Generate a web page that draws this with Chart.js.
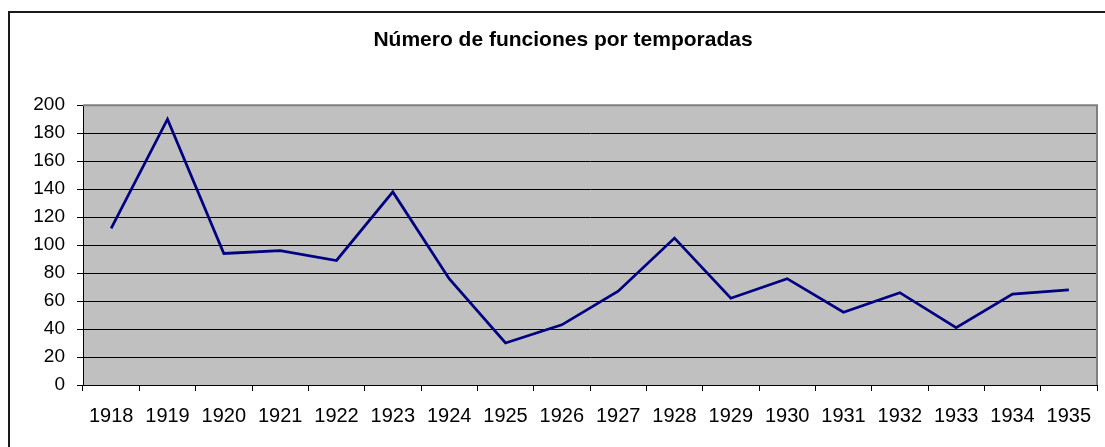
<!DOCTYPE html>
<html>
<head>
<meta charset="utf-8">
<script src="https://cdn.jsdelivr.net/npm/chart.js@4"></script>
<style>
  html, body { margin: 0; padding: 0; background: #ffffff; overflow: hidden; }
  #wrap { position: relative; width: 1105px; height: 447px; }
  canvas { display: block; }
</style>
</head>
<body>
<div id="wrap"><canvas id="c" width="1105" height="447"></canvas></div>
<script>
// ---- data ----
const chartTitle = 'Número de funciones por temporadas';
const seasons = ['1918','1919','1920','1921','1922','1923','1924','1925','1926','1927','1928','1929','1930','1931','1932','1933','1934','1935'];
const performances = [112, 190, 94, 96, 89, 138, 76, 30, 43, 67, 105, 62, 76, 52, 66, 41, 65, 68];
const yMin = 0;
const yMax = 200;
const yStep = 20;

const FONT = "'Liberation Sans', Arial, sans-serif";

const framePlugin = {
  id: 'framePlugin',
  beforeDraw(chart) {
    const ctx = chart.ctx;
    const a = chart.chartArea;
    ctx.save();
    ctx.fillStyle = '#ffffff';
    ctx.fillRect(0, 0, chart.width, chart.height);
    // outer frame (extends beyond the picture on right and bottom)
    ctx.strokeStyle = '#1a1a1a';
    ctx.lineWidth = 2;
    ctx.beginPath();
    ctx.moveTo(9, chart.height + 5);
    ctx.lineTo(9, 12);
    ctx.lineTo(chart.width + 5, 12);
    ctx.stroke();
    // plot background
    ctx.fillStyle = '#c0c0c0';
    ctx.fillRect(a.left, a.top, a.right - a.left, a.bottom - a.top);
    ctx.restore();
  },
  beforeDatasetsDraw(chart) {
    const ctx = chart.ctx;
    const a = chart.chartArea;
    ctx.save();
    ctx.strokeStyle = '#808080';
    ctx.lineWidth = 2;
    ctx.beginPath();
    ctx.moveTo(a.left, a.top);
    ctx.lineTo(a.right, a.top);
    ctx.lineTo(a.right, a.bottom);
    ctx.stroke();
    ctx.restore();
  }
};

new Chart(document.getElementById('c'), {
  type: 'line',
  data: {
    labels: seasons,
    datasets: [{
      label: 'Funciones',
      data: performances,
      borderColor: '#000080',
      borderWidth: 2.75,
      pointRadius: 0,
      pointHoverRadius: 0,
      tension: 0,
      fill: false
    }]
  },
  options: {
    responsive: false,
    animation: false,
    devicePixelRatio: 1,
    layout: { padding: { left: 29, right: 8, top: 0, bottom: 0 } },
    plugins: {
      legend: { display: false },
      tooltip: { enabled: false },
      title: {
        display: true,
        text: chartTitle,
        color: '#000000',
        font: { family: FONT, size: 21, weight: 'bold' },
        padding: { top: 28, bottom: 52 }
      }
    },
    scales: {
      x: {
        offset: true,
        grid: {
          offset: true,
          drawOnChartArea: false,
          drawTicks: true,
          tickLength: 6,
          tickColor: '#000000',
          tickWidth: 1
        },
        border: { display: true, color: '#000000', width: 1 },
        ticks: {
          color: '#000000',
          font: { family: FONT, size: 20 },
          padding: 13,
          maxRotation: 0,
          autoSkip: false
        },
        afterFit(scale) { scale.height = 62; }
      },
      y: {
        min: yMin,
        max: yMax,
        grid: {
          color: (c) => (c.tick && c.tick.value === yMax) ? '#808080' : '#000000',
          lineWidth: 1,
          drawTicks: true,
          tickLength: 6,
          tickColor: '#000000'
        },
        border: { display: true, color: '#000000', width: 1 },
        ticks: {
          stepSize: yStep,
          color: '#000000',
          font: { family: FONT, size: 19 },
          padding: 12
        },
        afterFit(scale) { scale.width = 54; }
      }
    }
  },
  plugins: [framePlugin]
});
</script>
</body>
</html>
